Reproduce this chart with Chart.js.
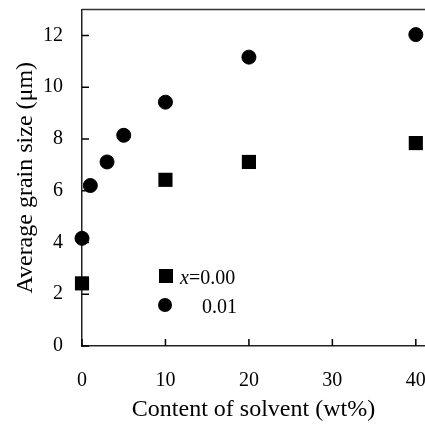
<!DOCTYPE html>
<html lang="en">
<head>
  <meta charset="UTF-8">
  <title>Average grain size vs solvent</title>
  <script src="https://cdn.jsdelivr.net/npm/chart.js"></script>
  <style>
    body { margin: 0; background: #fff; }
    .wrap { position: relative; width: 425px; height: 432px; }
    .key { position: absolute; font: 20px "Liberation Serif"; line-height: 20px; color: #000; }
    .mark { position: absolute; width: 14px; height: 14px; background: #000; }
  </style>
</head>
<body>
  <div class="wrap">
    <canvas id="grainChart" width="425" height="432"></canvas>
    <div class="mark" style="left:159px; top:269px;"></div>
    <div class="mark" style="left:158px; top:298px; border-radius:50%;"></div>
    <div class="key" style="left:180px; top:267px;"><i>x</i>=0.00</div>
    <div class="key" style="left:202px; top:296px;">0.01</div>
  </div>
  <script>
    // data
    const solventA = [0, 10, 20, 40];           // x = 0.00
    const grainA = [2.42, 6.42, 7.11, 7.84];
    const solventB = [0, 1, 3, 5, 10, 20, 40];  // x = 0.01
    const grainB = [4.16, 6.2, 7.11, 8.14, 9.42, 11.16, 12.03];
    const xTicks = [0, 10, 20, 30, 40];
    const yTicks = [0, 2, 4, 6, 8, 10, 12];

    const serif = 'Liberation Serif';
    const toPoints = (xs, ys) => xs.map((x, i) => ({ x: x, y: ys[i] }));

    // top frame line and inward tick marks
    const framePlugin = {
      id: 'frame',
      beforeDatasetsDraw(chart) {
        const c = chart.ctx, area = chart.chartArea;
        const xs = chart.scales.x, ys = chart.scales.y;
        c.save();
        c.strokeStyle = '#333';
        c.lineWidth = 1.5;
        c.beginPath();
        c.moveTo(area.left, area.top);
        c.lineTo(chart.width, area.top);
        c.stroke();
        c.strokeStyle = '#000';
        c.beginPath();
        xs.ticks.forEach(t => {
          const px = xs.getPixelForValue(t.value);
          c.moveTo(px, area.bottom);
          c.lineTo(px, area.bottom - 7);
        });
        ys.ticks.forEach(t => {
          const py = ys.getPixelForValue(t.value);
          c.moveTo(area.left, py);
          c.lineTo(area.left + 7, py);
        });
        c.stroke();
        c.restore();
      }
    };

    new Chart(document.getElementById('grainChart'), {
      type: 'scatter',
      data: {
        datasets: [
          {
            label: 'x=0.00',
            data: toPoints(solventA, grainA),
            pointStyle: 'rect',
            pointRadius: 10,
            pointBackgroundColor: '#000',
            pointBorderColor: '#000',
            pointBorderWidth: 0,
            clip: false
          },
          {
            label: '0.01',
            data: toPoints(solventB, grainB),
            pointStyle: 'circle',
            pointRadius: 7,
            pointBackgroundColor: '#000',
            pointBorderColor: '#000',
            pointBorderWidth: 1,
            clip: false
          }
        ]
      },
      options: {
        responsive: false,
        animation: false,
        layout: { autoPadding: false, padding: { top: 9.5 } },
        plugins: {
          legend: { display: false },
          tooltip: { enabled: false }
        },
        scales: {
          x: {
            min: 0,
            max: 41.1,
            afterFit: s => { s.height = 86; s.paddingLeft = 0; s.paddingRight = 0; },
            afterBuildTicks: s => { s.ticks = xTicks.map(v => ({ value: v })); },
            ticks: { color: '#000', font: { family: serif, size: 20 }, padding: 23, maxRotation: 0 },
            grid: { display: false, drawTicks: false },
            border: { color: '#222', width: 1.5 },
            title: {
              display: true,
              text: 'Content of solvent (wt%)',
              color: '#000',
              font: { family: serif, size: 24 },
              padding: { top: 0, bottom: 8 }
            }
          },
          y: {
            min: 0,
            max: 13,
            afterFit: s => { s.width = 82; s.paddingTop = 0; s.paddingBottom = 0; },
            afterBuildTicks: s => { s.ticks = yTicks.map(v => ({ value: v })); },
            ticks: { color: '#000', font: { family: serif, size: 20 }, padding: 19 },
            grid: { display: false, drawTicks: false },
            border: { color: '#222', width: 1.5 },
            title: {
              display: true,
              text: 'Average grain size (\u03bcm)',
              color: '#000',
              font: { family: serif, size: 24 },
              padding: { top: 11, bottom: 0 }
            }
          }
        }
      },
      plugins: [framePlugin]
    });
  </script>
</body>
</html>
